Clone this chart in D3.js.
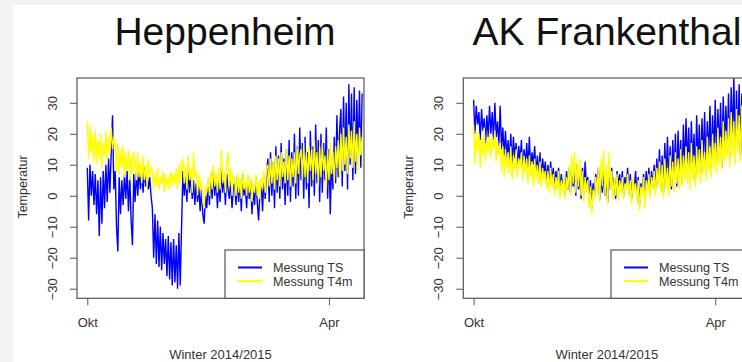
<!DOCTYPE html>
<html>
<head>
<meta charset="utf-8">
<script src="https://cdn.jsdelivr.net/npm/d3@7"></script>
<style>
  html, body { margin: 0; padding: 0; background: #f2f2f2; }
  svg { display: block; font-family: "Liberation Sans", Arial, Helvetica, sans-serif; }
</style>
</head>
<body>
<svg id="chart" width="742" height="362"></svg>
<script>
// Daily readings from 1 Oct 2014 onward (°C), one value per day.
const stations = ["Heppenheim", "AK Frankenthal"];
const seriesNames = ["Messung TS", "Messung T4m"];
const seriesColors = ["#0000ff", "#ffff00"];
const xTickLabels = ["Okt", "Apr"];
const yTickValues = [-30, -20, -10, 0, 10, 20, 30];
const xAxisTitle = "Winter 2014/2015";
const yAxisTitle = "Temperatur";

const heppenheimTS = [
  9, -8, 10, 0, 8, -3,
  7, -6, 5, -13, 6, -9, 8,
  -4, 10, -2, 12, 1, 14, 26, 2,
  8, -10, -18, 6, -6, 5, -3, 7, -1, 8,
  -5, 6, -8, -16, 7, -2, 8, 0, 9, 2,
  8, 1, 9, 3, 7, 2, 6, 0,
  -4, -20, -6, -22, -8, -23, -10, -24, -12, -22, -14, -26, -13, -27, -15, -29, -14, -28, -16, -30, -12, -29, -10,
  8, 0, 6, -2, 9, 1, 7, -1, 5, -3, 4, -2, 3, -5,
  2, -6, -9, 0, -4,
  5, -3, 7, -1, 8, 0, 6, -4, 5, -2, 9, 1, 6, -3, 7, 2, -1, 5, -4, 3,
  4, -3, 6, -2, 5, -5, 7, 0, 3, -4, 6, -1, 5, -6, 2, -3, 6, -2, -8, 1, 4, -5, 6, -1, 7,
  12, -2, 14, 0, 11, -4, 16, 1, 13, -1, 17, 2, 12, -3, 15, 0, 18, -2, 14, 3, 20, -1, 16, 0, 22,
  5, 17, -1, 19, 2, 14, -4, 21, 3, 16, 0, 23, 4, 18, -2, 20, 1, 17, 5, 22, -1, 15, -6, 12, 2, 19, 4, 26, 6, 21,
  28, 3, 32, 8, 30, 2, 36, 10, 33, 5, 35, 7, 31, 12, 34, 9, 33
];

const heppenheimT4m = [
  24, 12, 23, 14, 20, 11,
  21, 10, 18, 12, 20, 9, 17, 13, 21, 11, 19, 14, 22, 15, 19,
  16, 8, 17, 7, 15, 9, 16, 6, 14, 8, 15, 5, 13, 7, 14,
  12, 5, 14, 6, 11, 4, 13, 5, 10, 3, 12, 6, 9,
  8, 2, 7, 3, 9, 2, 6, 4, 8, 1, 7, 3, 6, 2, 8, 3, 7, 4, 9, 2, 10, 4, 11,
  12, 4, 10, 2, 13, 5, 9, 1, 14, 6, 8, 0, 7, 2, 5, -2, -4, 3, 1,
  6, 0, 8, 2, 10, 3, 7, 1, 9, 2, 15, 4, 8, 1, 11, 14, 3, 9, 0, 7,
  5, 0, 7, 1, 6, -1, 8, 2, 5, 0, 7, 1, 6, -2, 4, 1, 7, 0, 5, -1, 6, 2, 8, 1, 9,
  10, 3, 12, 4, 11, 2, 13, 5, 12, 3, 14, 6, 11, 4, 15, 5, 13, 3, 12, 6, 14, 4, 16, 7, 13,
  15, 5, 17, 6, 14, 4, 16, 8, 15, 5, 18, 7, 14, 3, 16, 6, 17, 8, 13, 2, 15, 5, 17, 7, 14, 4, 16, 9, 18, 6,
  20, 8, 22, 10, 19, 7, 23, 12, 21, 9, 24, 11, 20, 8, 22, 13, 19
];

const frankenthalTS = [
  31, 20, 29, 23, 27, 18, 28, 21, 25, 17, 26, 19, 29,
  20, 27, 18, 30, 19, 24, 16, 29, 15, 22, 13, 21, 12,
  18, 11, 20, 10, 19, 12, 17, 9, 16, 11, 18, 8, 15, 10, 17,
  9, 19, 8, 14, 10, 16, 7, 13, 6, 14, 5, 12, 7, 11, 4,
  10, 3, 11, 5, 9, 2, 8, 4, 9, 1, 7, 3, 6, 0, 8,
  2, 9, 1, 11, 3, 8, 0, 10, 2, 7, -1, 9, 1, 11, 3, 6, -2, 5, -4, 4,
  0, 7, 2, 9, -1, 6, 1, 8, 0, 5, -2, 7, 2, 9, 1, 6, -1, 8, 3, 7,
  2, 8, 0, 6, 3, 9, 1, 7, -1, 5, 2, 8, 0, 6, -3, 4, 1, 7, 0, 8, 2, 9, 1, 8, 3,
  10, 2, 12, 4, 15, 3, 13, 1, 17, 5, 19, 4, 16, 2, 18, 6, 20, 3, 21, 7, 18, 4, 23, 8, 25,
  9, 22, 6, 24, 10, 20, 5, 26, 9, 23, 7, 25, 11, 27, 8, 24, 12, 29, 10, 26, 13, 31, 11, 28, 14, 30, 9, 32, 15, 29,
  16, 33, 12, 35, 18, 38, 14, 34, 17, 36, 13, 33, 19, 35, 15, 32, 18
];

const frankenthalT4m = [
  23, 10, 21, 14, 20, 9, 19, 13, 22, 11, 18, 14, 20,
  12, 19, 15, 21, 11, 18, 13, 17, 8, 16, 6, 15, 9,
  14, 7, 16, 5, 13, 8, 15, 6, 12, 9, 14, 5, 13, 7, 12,
  4, 13, 6, 11, 3, 12, 5, 10, 4, 11, 3, 9, 5, 8, 2,
  8, 1, 9, 3, 7, 0, 6, 2, 8, -1, 5, 1, 7, -1, 6,
  2, 10, 0, 13, 4, 14, 1, 11, 3, 12, 0, 8, -2, 6, 1, 5, -4, 3, -6, 2,
  -1, 6, 1, 9, -2, 12, 3, 15, 0, 10, -3, 14, 2, 8, -1, 6, 0, 7, -2, 5,
  1, 6, -1, 4, 2, 7, 0, 5, -3, 6, 1, 4, -2, 5, -5, 3, 0, 6, -4, 5, 1, 7, -1, 6, 2,
  8, 0, 9, 3, 11, 1, 10, -1, 12, 2, 9, 0, 13, 3, 11, 1, 14, 4, 12, 2, 15, 3, 13, 5, 16,
  4, 14, 2, 17, 5, 13, 3, 16, 6, 15, 4, 18, 7, 14, 5, 19, 8, 16, 6, 20, 9, 17, 7, 22, 10, 19, 8, 24, 11, 21,
  12, 25, 9, 27, 13, 24, 10, 28, 14, 26, 11, 29, 15, 25, 12, 27, 16
];

const stationSeries = [
  [heppenheimTS, heppenheimT4m],
  [frankenthalTS, frankenthalT4m]
];

const DAY = 24 * 3600 * 1000;
const start = new Date(2014, 9, 1);
const xTickDates = [new Date(2014, 9, 1), new Date(2015, 3, 1)];
const dayDate = i => new Date(start.getTime() + i * DAY);

const svg = d3.select("#chart");
const textColor = "#333";
const frameColor = "#555";

// page: grey margin with a white sheet
svg.append("rect").attr("width", 742).attr("height", 362).attr("fill", "#f2f2f2");
svg.append("rect").attr("x", 13).attr("y", 5).attr("width", 729).attr("height", 357).attr("fill", "#fff");

// plot frames for the two stations
const frames = [
  { left: 77, top: 78, width: 287, height: 220.3, titleX: 225, legendLeft: 225 },
  { left: 463.3, top: 78, width: 287, height: 220.3, titleX: 607, legendLeft: 611 }
];

const defs = svg.append("defs");

frames.forEach((f, k) => {
  const x = d3.scaleTime()
    .domain([new Date(start.getTime() - 7.76 * DAY), new Date(start.getTime() + 208.4 * DAY)])
    .range([f.left, f.left + f.width]);
  const y = d3.scaleLinear()
    .domain([-33.1, 38.0])
    .range([f.top + f.height, f.top]);

  const g = svg.append("g");

  // title
  g.append("text")
    .attr("x", f.titleX).attr("y", 45)
    .attr("text-anchor", "middle")
    .attr("font-size", 39)
    .attr("fill", "#111")
    .text(stations[k]);

  // clip to plot frame
  const clipId = "clip" + k;
  defs.append("clipPath").attr("id", clipId)
    .append("rect").attr("x", f.left).attr("y", f.top).attr("width", f.width).attr("height", f.height);

  const line = d3.line()
    .x((d, i) => x(dayDate(i)))
    .y(d => y(d));

  const plot = g.append("g").attr("clip-path", `url(#${clipId})`);
  stationSeries[k].forEach((vals, s) => {
    plot.append("path")
      .datum(vals)
      .attr("d", line)
      .attr("fill", "none")
      .attr("stroke", seriesColors[s])
      .attr("stroke-width", 1.4)
      .attr("stroke-linejoin", "miter");
  });

  // y axis
  const yAxis = g.append("g")
    .attr("transform", `translate(${f.left},0)`)
    .call(d3.axisLeft(y).tickValues(yTickValues).tickSize(7).tickPadding(0).tickFormat(d3.format("d")));
  yAxis.select(".domain").remove();
  yAxis.selectAll(".tick line").attr("stroke", frameColor);
  yAxis.selectAll(".tick text")
    .attr("x", -25).attr("dy", null)
    .attr("text-anchor", "middle")
    .attr("dominant-baseline", "central")
    .attr("transform", "rotate(-90,-25,0)")
    .attr("font-size", 13)
    .attr("fill", textColor)
    .attr("font-family", null);

  // x axis
  const xAxis = g.append("g")
    .attr("transform", `translate(0,${f.top + f.height})`)
    .call(d3.axisBottom(x).tickValues(xTickDates).tickSize(7).tickFormat((d, i) => xTickLabels[i]));
  xAxis.select(".domain").remove();
  xAxis.selectAll(".tick line").attr("stroke", frameColor);
  xAxis.selectAll(".tick text")
    .attr("y", 29).attr("dy", null)
    .attr("font-size", 13)
    .attr("fill", textColor)
    .attr("font-family", null);

  // axis titles
  g.append("text")
    .attr("x", f.left + f.width / 2).attr("y", 358.5)
    .attr("text-anchor", "middle")
    .attr("font-size", 13)
    .attr("fill", textColor)
    .text(xAxisTitle);
  const yt = f.left - 54;
  g.append("text")
    .attr("x", yt).attr("y", 187)
    .attr("text-anchor", "middle")
    .attr("dominant-baseline", "central")
    .attr("transform", `rotate(-90,${yt},187)`)
    .attr("font-size", 12.5)
    .attr("fill", textColor)
    .text(yAxisTitle);

  // frame
  g.append("rect")
    .attr("x", f.left).attr("y", f.top).attr("width", f.width).attr("height", f.height)
    .attr("fill", "none").attr("stroke", frameColor).attr("stroke-width", 1.2);

  // legend
  const lg = g.append("g");
  const lx = f.legendLeft, ly = 250;
  lg.append("rect")
    .attr("x", lx).attr("y", ly)
    .attr("width", f.left + f.width - lx).attr("height", f.top + f.height - ly)
    .attr("fill", "#fff").attr("stroke", frameColor).attr("stroke-width", 1.2);
  seriesNames.forEach((name, s) => {
    const yy = ly + 17.5 + s * 13.6;
    lg.append("line")
      .attr("x1", lx + 13).attr("x2", lx + 37).attr("y1", yy).attr("y2", yy)
      .attr("stroke", seriesColors[s]).attr("stroke-width", 2);
    lg.append("text")
      .attr("x", lx + 48).attr("y", yy + 4.4)
      .attr("font-size", 12.6)
      .attr("fill", textColor)
      .text(name);
  });
});
</script>
</body>
</html>
